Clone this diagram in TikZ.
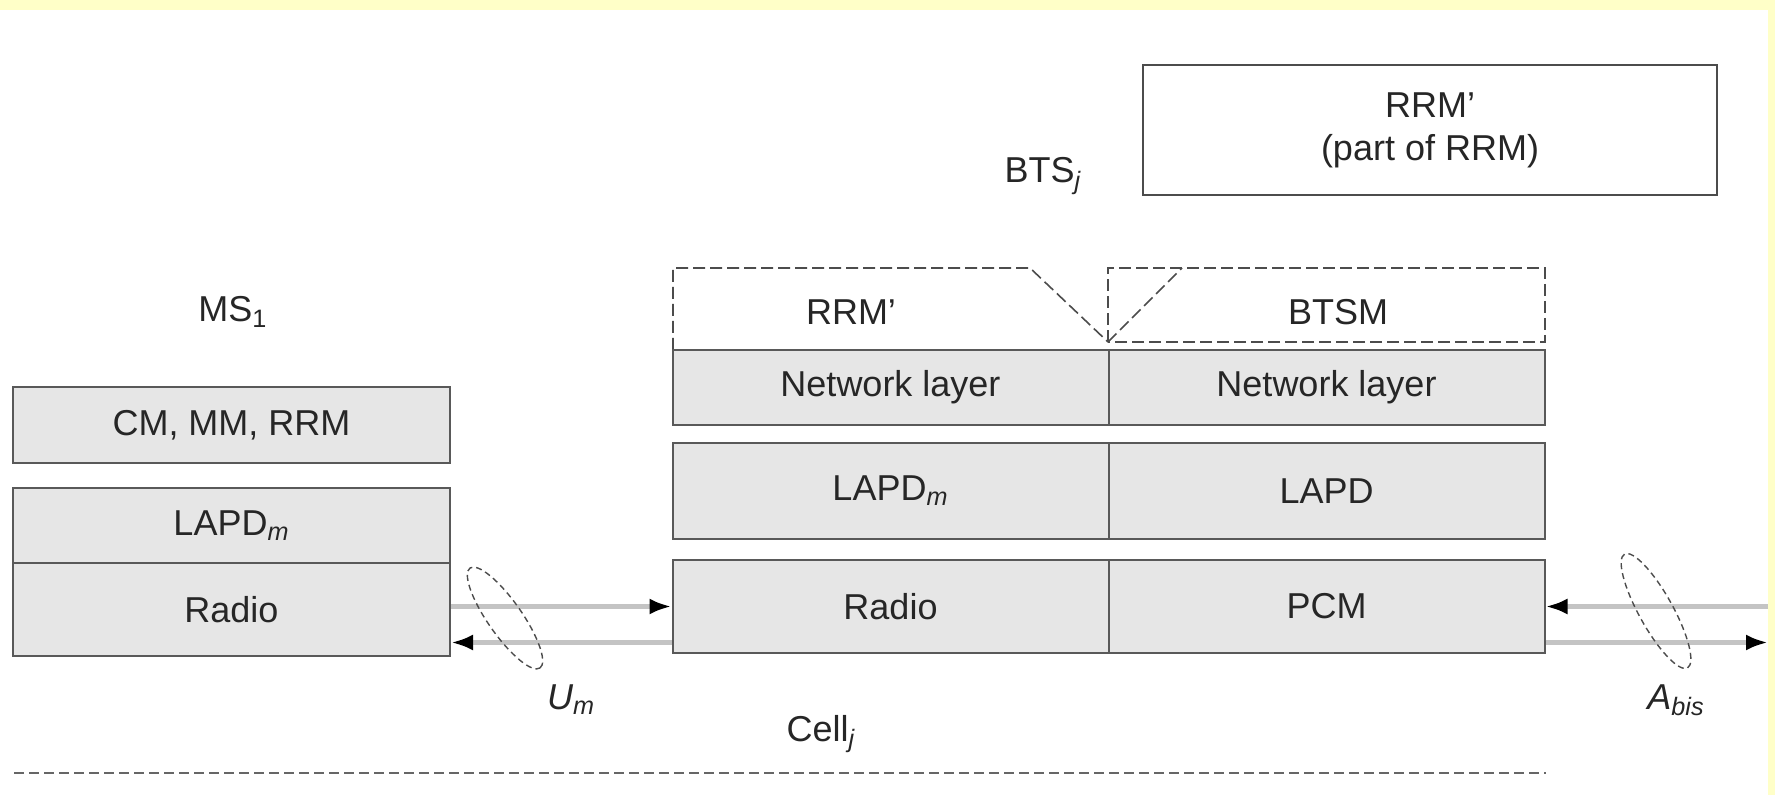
\documentclass[tikz,border=0pt]{standalone}
\usepackage{fontspec}
\setmainfont{Liberation Sans}
\usetikzlibrary{shapes.geometric,arrows.meta}
\definecolor{layerfill}{HTML}{E6E6E6}
\definecolor{pagetint}{HTML}{FFFFC8}
\definecolor{wiregray}{HTML}{C4C4C4}

\begin{document}
\begin{tikzpicture}
[x=0.5pt,y=-0.5pt,%
  every node/.style={font=\fontsize{18}{21.5}\selectfont,text=black!85},%
  layer/.style={draw=black!65,line width=1pt,fill=layerfill,inner sep=0pt},%
  dashpart/.style={draw=black!70,line width=0.8pt,dash pattern=on 6pt off 2.5pt},%
  wire/.style={wiregray,line width=2.6pt,-{Latex[color=black,length=11pt,width=8pt]}},%
  ring/.style={draw=black!70,line width=0.7pt,dash pattern=on 3pt off 2pt,ellipse,inner sep=0pt}]
\fill[pagetint] (0,0) rectangle (1775,795);
\fill[white] (0,10) rectangle (1768,795);
\useasboundingbox (0,0) rectangle (1775,795);
\node (ms) at (233,312) {MS\textsubscript{1}};
\node[layer,minimum width=218.5pt,minimum height=38pt] (mscm) at (231.5,425) {CM, MM, RRM};
\node[layer,minimum width=218.5pt,minimum height=37.5pt] (mslapd) at (231.5,525.5) {LAPD\textsubscript{\itshape m}};
\node[layer,minimum width=218.5pt,minimum height=46.5pt] (msradio) at (231.5,609.5) {Radio};
\node (bts) at (1043,176) {BTS\textsubscript{\itshape j}};
\node[draw=black!70,line width=1pt,minimum width=287pt,minimum height=65pt,align=center] (rrmpart) at (1430,130) {RRM’\\(part of RRM)};
\draw[dashpart] (673,350) -- (673,268) -- (1030,268) -- (1108,342);
\draw[dashpart] (1108,342) -- (1108,268) -- (1545,268) -- (1545,342) -- cycle;
\draw[dashpart] (1108,342) -- (1182,268);
\node (rrmL) at (851,312) {RRM’};
\node (btsm) at (1338,312) {BTSM};
\node[layer,minimum width=218pt,minimum height=37.5pt] (netL) at (890.5,387.5) {Network layer};
\node[layer,minimum width=218pt,minimum height=37.5pt] (netR) at (1326.5,387.5) {Network layer};
\node[layer,minimum width=218pt,minimum height=48pt] (lapdL) at (890.5,491) {LAPD\textsubscript{\itshape m}};
\node[layer,minimum width=218pt,minimum height=48pt] (lapdR) at (1326.5,491) {LAPD};
\node[layer,minimum width=218pt,minimum height=46.5pt] (radioL) at (890.5,606.5) {Radio};
\node[layer,minimum width=218pt,minimum height=46.5pt] (pcmR) at (1326.5,606.5) {PCM};
\draw[wire] (msradio.east |- radioL.west) -- (radioL.west);
\coordinate (umlow) at ([yshift=-18pt]radioL.west);
\draw[wire] (umlow) -- (umlow -| msradio.east);
\coordinate (abisend) at (1768,606.5);
\draw[wire] (abisend) -- (pcmR.east);
\coordinate (abislow) at ([yshift=-18pt]pcmR.east);
\draw[wire] (abislow) -- (abislow -| abisend);
\node[ring,minimum width=61pt,minimum height=17pt,rotate=-55] (umring) at (505,618) {};
\node[ring,minimum width=65pt,minimum height=17pt,rotate=-61] (abisring) at (1656,611) {};
\node (um) at (571,700) {\itshape U\textsubscript{m}};
\node (abis) at (1676,700) {\itshape A\textsubscript{bis}};
\node (cell) at (821,734) {Cell\textsubscript{\itshape j}};
\draw[black!60,line width=1pt,dash pattern=on 5pt off 2.5pt] (14,773) -- (1546,773);
\end{tikzpicture}
\end{document}
